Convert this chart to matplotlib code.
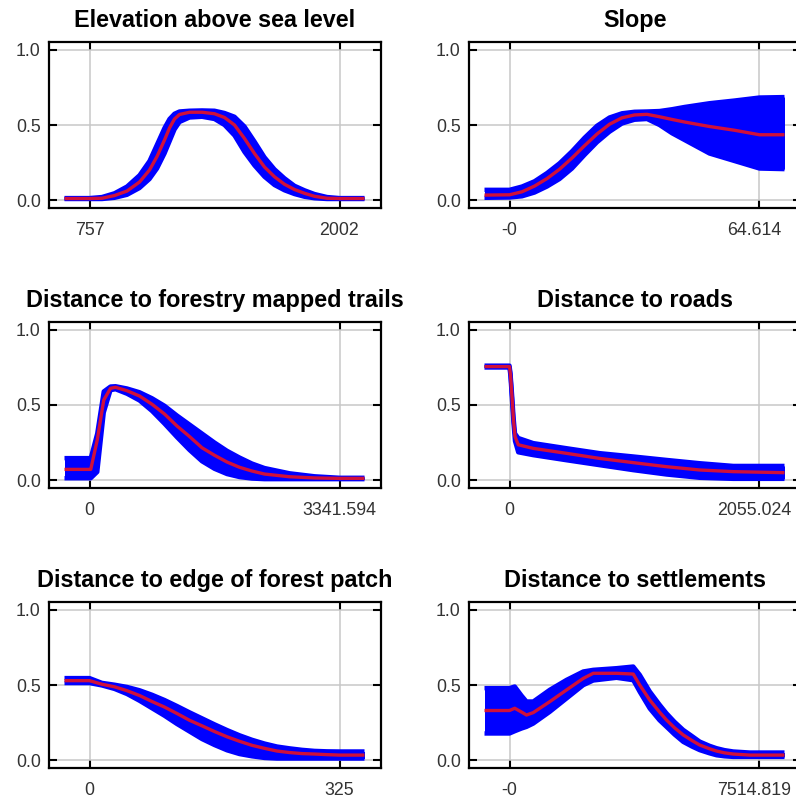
import matplotlib
matplotlib.use("Agg")
import matplotlib.pyplot as plt
import matplotlib.transforms as mtransforms

# Response curves: mean (red) and mean +/- sd (blue band)
titles = [
    "Elevation above sea level",
    "Slope",
    "Distance to forestry mapped trails",
    "Distance to roads",
    "Distance to edge of forest patch",
    "Distance to settlements",
]

# tick positions (min/max of each variable) and their labels
tick_lo = [757, 0, 0, 0, 0, 0]
tick_hi = [2002, 64.614, 3341.594, 2055.024, 325, 7514.819]
tick_labels = [
    ["757", "2002"],
    ["-0", "64.614"],
    ["0", "3341.594"],
    ["0", "2055.024"],
    ["0", "325"],
    ["-0", "7514.819"],
]

elev_x = [632.5, 757, 819.3, 881.5, 943.8, 1006, 1055.8, 1093.2, 1130.5, 1155.4, 1180.3, 1205.2, 1255,
          1317.3, 1379.5, 1429.3, 1479.1, 1528.9, 1578.7, 1628.5, 1678.3, 1728.1, 1777.9, 1827.7,
          1877.5, 1939.8, 2002, 2126.5]
elev_mean = [0.01, 0.01, 0.012, 0.03, 0.06, 0.12, 0.20, 0.29, 0.40, 0.48, 0.54, 0.57, 0.585,
             0.585, 0.575, 0.55, 0.50, 0.41, 0.31, 0.22, 0.155, 0.105, 0.07, 0.045,
             0.025, 0.012, 0.01, 0.01]
elev_hi = [0.013, 0.013, 0.02, 0.045, 0.09, 0.165, 0.26, 0.37, 0.48, 0.54, 0.575, 0.59, 0.595,
           0.597, 0.595, 0.58, 0.555, 0.49, 0.39, 0.285, 0.205, 0.145, 0.095, 0.065,
           0.04, 0.02, 0.013, 0.013]
elev_lo = [0.007, 0.007, 0.007, 0.015, 0.035, 0.08, 0.14, 0.21, 0.31, 0.39, 0.47, 0.52, 0.55,
           0.555, 0.54, 0.50, 0.43, 0.32, 0.23, 0.155, 0.10, 0.065, 0.04, 0.022,
           0.012, 0.007, 0.007, 0.007]

slope_x = [-6.461, 0, 3.231, 6.461, 9.692, 12.923, 16.154, 19.384, 22.615, 25.846, 29.076, 32.307,
           35.538, 38.768, 41.999, 45.23, 51.691, 58.153, 64.614, 71.075]
slope_mean = [0.033, 0.035, 0.055, 0.093, 0.143, 0.205, 0.28, 0.362, 0.44, 0.505, 0.548, 0.567,
              0.571, 0.555, 0.537, 0.52, 0.49, 0.465, 0.435, 0.435]
slope_hi = [0.068, 0.068, 0.09, 0.125, 0.18, 0.245, 0.325, 0.415, 0.495, 0.55, 0.578, 0.588,
            0.59, 0.593, 0.605, 0.62, 0.645, 0.663, 0.683, 0.686]
slope_lo = [0.015, 0.017, 0.025, 0.05, 0.09, 0.14, 0.21, 0.30, 0.385, 0.455, 0.51, 0.535,
            0.54, 0.50, 0.445, 0.40, 0.31, 0.26, 0.21, 0.206]

trail_x = [-334.16, 16.71, 103.59, 190.47, 280.69, 347.53, 501.24, 668.32, 835.4, 1002.48, 1169.56,
           1336.64, 1503.72, 1670.8, 1837.88, 2004.96, 2172.04, 2339.12, 2673.28, 3007.43,
           3341.59, 3675.75]
trail_mean = [0.071, 0.071, 0.267, 0.533, 0.611, 0.618, 0.595, 0.56, 0.505, 0.44, 0.36,
              0.29, 0.215, 0.165, 0.12, 0.085, 0.06, 0.04, 0.022, 0.014, 0.011, 0.011]
trail_hi = [0.146, 0.146, 0.31, 0.59, 0.623, 0.625, 0.61, 0.585, 0.545, 0.495, 0.43,
            0.37, 0.31, 0.25, 0.195, 0.15, 0.11, 0.08, 0.045, 0.025, 0.015, 0.015]
trail_lo = [0.012, 0.012, 0.054, 0.45, 0.599, 0.605, 0.575, 0.53, 0.46, 0.375, 0.285,
            0.20, 0.125, 0.075, 0.04, 0.02, 0.01, 0.006, 0.006, 0.006, 0.006, 0.006]

road_x = [-205.5, 0, 8.2, 22.6, 32.9, 45.2, 71.9, 195.2, 468.5, 741.9, 1017.2, 1290.5, 1563.9, 1839.2, 2260.5]
road_mean = [0.756, 0.756, 0.70, 0.53, 0.40, 0.29, 0.235, 0.211, 0.178, 0.144, 0.116, 0.089, 0.067, 0.056, 0.049]
road_hi = [0.762, 0.762, 0.71, 0.55, 0.42, 0.31, 0.28, 0.246, 0.212, 0.179, 0.157, 0.134, 0.112, 0.094, 0.094]
road_lo = [0.75, 0.75, 0.69, 0.51, 0.38, 0.26, 0.185, 0.166, 0.132, 0.099, 0.066, 0.037, 0.015, 0.008, 0.008]

edge_x = [-32.5, 0, 16.25, 32.5, 48.75, 65, 81.25, 97.5, 113.75, 130, 146.25, 162.5, 178.75, 195,
          211.25, 227.5, 243.75, 260, 276.25, 292.5, 308.75, 325, 357.5]
edge_mean = [0.529, 0.529, 0.505, 0.488, 0.462, 0.43, 0.39, 0.353, 0.31, 0.265, 0.228, 0.19, 0.155,
             0.125, 0.098, 0.078, 0.06, 0.05, 0.043, 0.04, 0.036, 0.033, 0.033]
edge_hi = [0.546, 0.546, 0.514, 0.502, 0.487, 0.465, 0.435, 0.40, 0.36, 0.318, 0.278, 0.238, 0.2,
           0.165, 0.135, 0.11, 0.09, 0.078, 0.068, 0.061, 0.058, 0.057, 0.057]
edge_lo = [0.513, 0.513, 0.497, 0.474, 0.44, 0.395, 0.345, 0.295, 0.24, 0.19, 0.14, 0.10, 0.065,
           0.04, 0.025, 0.014, 0.01, 0.01, 0.01, 0.01, 0.01, 0.01, 0.01]

settle_x = [-751.5, 0, 157.8, 360.7, 511.0, 713.9, 1209.9, 1713.4, 2216.9, 2517.5, 3216.3, 3719.8,
            3915.2, 4215.8, 4508.9, 4719.3, 4959.8, 5222.8, 5485.8, 5718.8, 6011.9, 6222.3,
            6462.7, 6725.8, 7221.7, 8266.3]
settle_mean = [0.33, 0.33, 0.345, 0.32, 0.30, 0.316, 0.389, 0.467, 0.544, 0.578, 0.578, 0.573,
               0.50, 0.40, 0.32, 0.267, 0.215, 0.167, 0.13, 0.10, 0.075, 0.06,
               0.048, 0.04, 0.033, 0.033]
settle_hi = [0.479, 0.479, 0.49, 0.43, 0.39, 0.39, 0.468, 0.534, 0.59, 0.601, 0.612, 0.623,
             0.568, 0.457, 0.37, 0.312, 0.255, 0.201, 0.16, 0.123, 0.095, 0.079,
             0.066, 0.057, 0.05, 0.05]
settle_lo = [0.177, 0.177, 0.192, 0.21, 0.221, 0.243, 0.321, 0.41, 0.499, 0.53, 0.548, 0.532,
             0.454, 0.343, 0.265, 0.221, 0.17, 0.121, 0.09, 0.066, 0.045, 0.032,
             0.025, 0.021, 0.021, 0.021]

curves = [
    (elev_x, elev_mean, elev_lo, elev_hi),
    (slope_x, slope_mean, slope_lo, slope_hi),
    (trail_x, trail_mean, trail_lo, trail_hi),
    (road_x, road_mean, road_lo, road_hi),
    (edge_x, edge_mean, edge_lo, edge_hi),
    (settle_x, settle_mean, settle_lo, settle_hi),
]

W, H = 796, 801
fig = plt.figure(figsize=(W / 100, H / 100), dpi=100)
fig.patch.set_facecolor("white")

col_left = [49, 469]
row_top = [42, 322, 602]
ax_w, ax_h = 332, 166

for i, (title, (x, m, lo, hi)) in enumerate(zip(titles, curves)):
    r, c = divmod(i, 2)
    left = col_left[c] / W
    bottom = (H - row_top[r] - ax_h) / H
    ax = fig.add_axes([left, bottom, ax_w / W, ax_h / H])

    a, b = tick_lo[i], tick_hi[i]
    span = b - a
    ax.set_xlim(a - 0.162 * span, b + 0.166 * span)
    ax.set_ylim(-0.053, 1.053)

    ax.grid(True, color="#c8c8c8", linewidth=1.1, zorder=0)
    ax.set_axisbelow(True)

    # blue band (sd) drawn as filled area with thick edges, red mean on top
    ax.fill_between(x, lo, hi, color="#0000ff", linewidth=0, zorder=2)
    ax.plot(x, hi, color="#0000ff", linewidth=3.2, solid_capstyle="butt", zorder=2)
    ax.plot(x, lo, color="#0000ff", linewidth=3.2, solid_capstyle="butt", zorder=2)
    ax.plot(x, m, color="#d0103a", linewidth=2.4, solid_capstyle="butt", zorder=3)

    ax.set_xticks([a, b])
    ax.set_xticklabels(tick_labels[i])
    ax.set_yticks([0, 0.5, 1.0])
    ax.set_yticklabels(["0.0", "0.5", "1.0"])
    ax.tick_params(direction="in", length=6, width=1.5, top=True, right=True,
                   labelsize=12.8, labelcolor="#333333", colors="black")
    ax.tick_params(axis="x", pad=10)
    ax.tick_params(axis="y", pad=6)
    for lab in ax.get_xticklabels() + ax.get_yticklabels():
        lab.set_fontfamily("Liberation Sans")
    # right column is cut by the figure edge; keep the max label inside
    if c == 1:
        shift = mtransforms.ScaledTranslation(-5 / 100, 0, fig.dpi_scale_trans)
        lab = ax.get_xticklabels()[1]
        lab.set_transform(lab.get_transform() + shift)
    for s in ax.spines.values():
        s.set_linewidth(1.6)

    ax.set_title(title, fontsize=16.8, fontweight="bold", family="Liberation Sans",
                 pad=11)

fig.savefig("out.png", dpi=100, facecolor="white")
